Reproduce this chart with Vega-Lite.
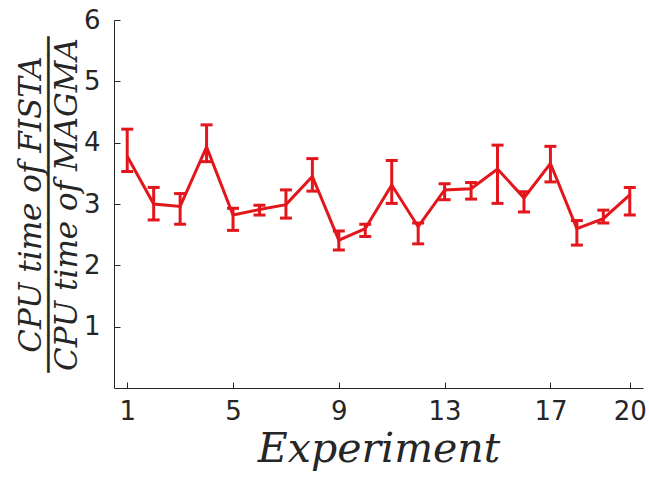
{
  "$schema": "https://vega.github.io/schema/vega-lite/v6.json",
  "width": 529,
  "height": 368,
  "autosize": {"type": "none"},
  "padding": {"left": 114, "top": 20, "right": 6, "bottom": 96},
  "background": "white",
  "config": {
    "view": {"stroke": null},
    "axis": {
      "grid": false,
      "domainColor": "#262626",
      "domainWidth": 1,
      "tickColor": "#262626",
      "tickWidth": 1,
      "tickSize": -6,
      "labelFont": "DejaVu Sans",
      "labelFontSize": 26,
      "labelColor": "#262626",
      "titleFont": "DejaVu Serif",
      "titleFontStyle": "italic",
      "titleFontWeight": "normal",
      "titleColor": "#262626"
    }
  },
  "data": {
    "values": [
      {"experiment": 1, "ratio": 3.78, "lo": 3.53, "hi": 4.22},
      {"experiment": 2, "ratio": 3.0, "lo": 2.74, "hi": 3.27},
      {"experiment": 3, "ratio": 2.96, "lo": 2.67, "hi": 3.17},
      {"experiment": 4, "ratio": 3.93, "lo": 3.69, "hi": 4.29},
      {"experiment": 5, "ratio": 2.82, "lo": 2.57, "hi": 2.93},
      {"experiment": 6, "ratio": 2.91, "lo": 2.82, "hi": 2.98},
      {"experiment": 7, "ratio": 2.99, "lo": 2.77, "hi": 3.23},
      {"experiment": 8, "ratio": 3.45, "lo": 3.21, "hi": 3.74},
      {"experiment": 9, "ratio": 2.41, "lo": 2.25, "hi": 2.56},
      {"experiment": 10, "ratio": 2.6, "lo": 2.47, "hi": 2.67},
      {"experiment": 11, "ratio": 3.31, "lo": 3.01, "hi": 3.71},
      {"experiment": 12, "ratio": 2.63, "lo": 2.35, "hi": 2.69},
      {"experiment": 13, "ratio": 3.23, "lo": 3.07, "hi": 3.33},
      {"experiment": 14, "ratio": 3.25, "lo": 3.08, "hi": 3.35},
      {"experiment": 15, "ratio": 3.57, "lo": 3.01, "hi": 3.96},
      {"experiment": 16, "ratio": 3.1, "lo": 2.87, "hi": 3.2},
      {"experiment": 17, "ratio": 3.66, "lo": 3.36, "hi": 3.94},
      {"experiment": 18, "ratio": 2.6, "lo": 2.33, "hi": 2.73},
      {"experiment": 19, "ratio": 2.76, "lo": 2.69, "hi": 2.9},
      {"experiment": 20, "ratio": 3.15, "lo": 2.82, "hi": 3.27}
    ]
  },
  "resolve": {"axis": {"x": "independent", "y": "independent"}},
  "layer": [
    {
      "mark": {"type": "line", "color": "#e3161c", "strokeWidth": 3},
      "encoding": {
        "x": {
          "field": "experiment",
          "type": "quantitative",
          "scale": {"domain": [0.5, 20.5], "nice": false, "zero": false},
          "axis": {
            "values": [1, 5, 9, 13, 17, 20],
            "format": "d",
            "labelPadding": 16,
            "title": "Experiment",
            "titleFontSize": 41,
            "titlePadding": 5
          }
        },
        "y": {
          "field": "ratio",
          "type": "quantitative",
          "scale": {"domain": [0, 6], "nice": false},
          "axis": {
            "values": [1, 2, 3, 4, 5, 6],
            "format": "d",
            "labelPadding": 20,
            "title": ["CPU time of FISTA", "──────────────────", "CPU time of MAGMA"],
            "titleFontSize": 31,
            "titleLineHeight": 18,
            "titlePadding": 0
          }
        }
      }
    },
    {
      "mark": {"type": "errorbar", "color": "#e3161c", "thickness": 3, "opacity": 1, "ticks": {"size": 12, "thickness": 3, "color": "#e3161c", "opacity": 1}},
      "encoding": {
        "x": {"field": "experiment", "type": "quantitative", "axis": null},
        "y": {"field": "lo", "type": "quantitative", "axis": null},
        "y2": {"field": "hi"}
      }
    }
  ]
}
